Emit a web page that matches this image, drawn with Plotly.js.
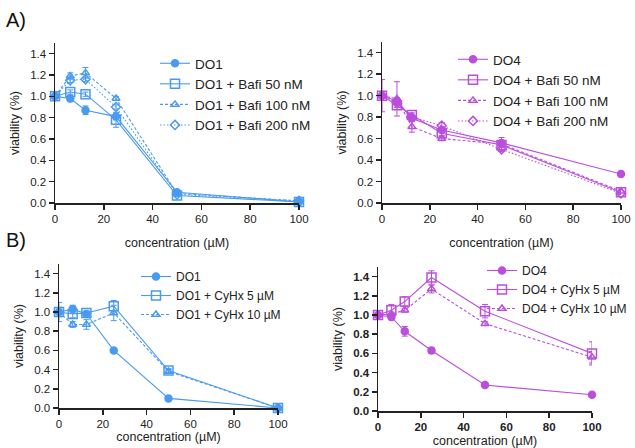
<!DOCTYPE html>
<html><head><meta charset="utf-8">
<script src="https://cdn.plot.ly/plotly-3.0.1.min.js"></script>
<style>html,body{margin:0;padding:0;background:#fff}#c{width:635px;height:448px}</style>
</head><body><div id="c"></div>
<script>
const conc = [0, 6.25, 12.5, 25, 50, 100];

// Panel A left (DO1 + Bafilomycin)
const a1Names = ["DO1", "DO1 + Bafi 50 nM", "DO1 + Bafi 100 nM", "DO1 + Bafi 200 nM"];
const a1_DO1 = [1.0, 0.98, 0.87, 0.81, 0.10, 0.01];
const a1_DO1_err = [0.02, 0.03, 0.04, 0.03, 0.01, 0.01];
const a1_B50 = [1.0, 1.04, 1.02, 0.78, 0.07, 0.01];
const a1_B50_err = [0.02, 0.02, 0.02, 0.07, 0.01, 0.01];
const a1_B100 = [1.0, 1.19, 1.22, 0.98, 0.09, 0.02];
const a1_B100_err = [0.02, 0.03, 0.05, 0.02, 0.01, 0.01];
const a1_B200 = [1.0, 1.15, 1.16, 0.90, 0.08, 0.02];
const a1_B200_err = [0.02, 0.02, 0.02, 0.02, 0.01, 0.01];

// Panel A right (DO4 + Bafilomycin)
const a2Names = ["DO4", "DO4 + Bafi 50 nM", "DO4 + Bafi 100 nM", "DO4 + Bafi 200 nM"];
const a2_DO4 = [1.0, 0.95, 0.79, 0.68, 0.56, 0.27];
const a2_DO4_err = [0.15, 0.03, 0.02, 0.02, 0.02, 0.01];
const a2_B50 = [1.0, 0.91, 0.82, 0.65, 0.54, 0.10];
const a2_B50_err = [0.02, 0.02, 0.02, 0.02, 0.02, 0.02];
const a2_B100 = [1.0, 0.97, 0.71, 0.60, 0.55, 0.11];
const a2_B100_err = [0.02, 0.16, 0.05, 0.02, 0.06, 0.02];
const a2_B200 = [1.0, 0.93, 0.80, 0.72, 0.50, 0.09];
const a2_B200_err = [0.02, 0.02, 0.02, 0.03, 0.02, 0.01];

// Panel B left (DO1 + Cycloheximide)
const b1Names = ["DO1", "DO1 + CyHx 5 µM", "DO1 + CyHx 10 µM"];
const b1_DO1 = [1.0, 1.03, 0.98, 0.60, 0.10, 0.0];
const b1_DO1_err = [0.03, 0.04, 0.02, 0.01, 0.01, 0.0];
const b1_C5 = [1.0, 0.98, 0.99, 1.06, 0.39, 0.0];
const b1_C5_err = [0.10, 0.04, 0.02, 0.06, 0.02, 0.0];
const b1_C10 = [1.0, 0.87, 0.87, 0.99, 0.38, 0.0];
const b1_C10_err = [0.05, 0.03, 0.05, 0.08, 0.02, 0.0];

// Panel B right (DO4 + Cycloheximide)
const b2Names = ["DO4", "DO4 + CyHx 5 µM", "DO4 + CyHx 10 µM"];
const b2_DO4 = [1.0, 0.98, 0.83, 0.63, 0.27, 0.17];
const b2_DO4_err = [0.02, 0.03, 0.05, 0.03, 0.01, 0.01];
const b2_C5 = [1.0, 1.05, 1.14, 1.39, 1.04, 0.60];
const b2_C5_err = [0.02, 0.06, 0.05, 0.07, 0.07, 0.12];
const b2_C10 = [1.0, 1.01, 1.05, 1.27, 0.91, 0.56];
const b2_C10_err = [0.02, 0.02, 0.02, 0.04, 0.02, 0.06];

const BLUE = "#4a9af0", PURPLE = "#b94fdc";
const symbols = ["circle", "square-open", "triangle-up-open", "diamond-open"];
const dashes = ["solid", "solid", "3px,2px", "1.5px,2px"];
const symbolsC = ["circle", "square-open", "triangle-up-open"];
const dashesC = ["solid", "solid", "3px,2px"];

let gid = 0;
function tr(y, err, name, color, sym, dash, xa, ya, leg, size) {
  gid += 1;
  return {
    x: conc, y: y, name: name, type: "scatter", mode: "lines+markers",
    xaxis: xa, yaxis: ya, legend: leg, legendgroup: "g" + gid, cliponaxis: false,
    line: {color: color, width: 1.1, dash: dash},
    marker: {symbol: sym, color: color, size: size, line: {color: color, width: 1.5}},
    error_y: {type: "data", array: err, visible: true, color: color, thickness: 1, width: 3}
  };
}

const data = [];
const a1 = [[a1_DO1, a1_DO1_err], [a1_B50, a1_B50_err], [a1_B100, a1_B100_err], [a1_B200, a1_B200_err]];
a1.forEach((s, i) => data.push(tr(s[0], s[1], a1Names[i], BLUE, symbols[i], dashes[i], "x", "y", "legend", i === 1 ? 9 : 7)));
const a2 = [[a2_DO4, a2_DO4_err], [a2_B50, a2_B50_err], [a2_B100, a2_B100_err], [a2_B200, a2_B200_err]];
a2.forEach((s, i) => data.push(tr(s[0], s[1], a2Names[i], PURPLE, symbols[i], dashes[i], "x2", "y2", "legend2", i === 1 ? 9 : 7)));
const b1 = [[b1_DO1, b1_DO1_err], [b1_C5, b1_C5_err], [b1_C10, b1_C10_err]];
b1.forEach((s, i) => data.push(tr(s[0], s[1], b1Names[i], BLUE, symbolsC[i], dashesC[i], "x3", "y3", "legend3", i === 1 ? 9 : 7)));
const b2 = [[b2_DO4, b2_DO4_err], [b2_C5, b2_C5_err], [b2_C10, b2_C10_err]];
b2.forEach((s, i) => data.push(tr(s[0], s[1], b2Names[i], PURPLE, symbolsC[i], dashesC[i], "x4", "y4", "legend4", i === 1 ? 9 : 7)));

const W = 635, H = 448;
const px = v => v / W, py = v => 1 - v / H;
const FONT = "Liberation Sans, Arial, sans-serif";

function xax(x0, x1, anchor, standoff, bold) {
  return {
    domain: [px(x0), px(x1)], anchor: anchor, range: [0, 100], tickvals: [0, 20, 40, 60, 80, 100],
    showgrid: false, zeroline: false, showline: true, linecolor: "#222", linewidth: 1.5,
    ticks: "outside", ticklen: 5, tickcolor: "#222", tickwidth: 1.5, ticklabeloverflow: "allow",
    tickfont: {size: 11.5, color: "#222", family: FONT, weight: bold ? "bold" : "normal"},
    title: {text: "concentration (µM)", font: {size: 12.5, color: "#222", family: FONT}, standoff: standoff}
  };
}
function yax(y0, y15, anchor, bold) {
  return {
    domain: [py(y0), py(y15)], anchor: anchor, range: [0, 1.5], tickvals: [0, 0.2, 0.4, 0.6, 0.8, 1.0, 1.2, 1.4],
    tickformat: ".1f", showgrid: false, zeroline: false, showline: true, linecolor: "#222", linewidth: 1.5,
    ticks: "outside", ticklen: 5, tickcolor: "#222", tickwidth: 1.5,
    tickfont: {size: 11.5, color: "#222", family: FONT, weight: bold ? "bold" : "normal"},
    title: {text: "viability (%)", font: {size: 12.5, color: "#222", family: FONT}, standoff: 8}
  };
}
function leg(x, y, fs, gap) {
  return {x: px(x), y: py(y), xanchor: "left", yanchor: "top", bgcolor: "rgba(0,0,0,0)",
    font: {size: fs, color: "#222", family: FONT}, itemwidth: 30, traceorder: "grouped", tracegroupgap: gap};
}

const layout = {
  width: W, height: H, margin: {l: 0, r: 0, t: 0, b: 0},
  paper_bgcolor: "#fff", plot_bgcolor: "#fff", showlegend: true,
  font: {family: FONT, color: "#222"},
  xaxis: xax(55, 299, "y", 14, false),
  yaxis: yax(203, 43, "x", false),
  xaxis2: xax(382, 621, "y2", 14, false),
  yaxis2: yax(203, 42, "x2", false),
  xaxis3: xax(59, 278, "y3", 1, false),
  yaxis3: yax(408, 264, "x3", false),
  xaxis4: xax(378, 592, "y4", 7, true),
  yaxis4: yax(411, 267, "x4", true),
  legend: leg(155, 48, 13.5, 0),
  legend2: leg(453, 44, 13.5, 0),
  legend3: leg(136, 262, 12, 0),
  legend4: leg(482, 256, 12, 0),
  annotations: [
    {text: "A)", x: px(4), y: py(20), xref: "paper", yref: "paper", xanchor: "left", yanchor: "middle", showarrow: false, font: {size: 20, color: "#111", family: FONT}},
    {text: "B)", x: px(4), y: py(240), xref: "paper", yref: "paper", xanchor: "left", yanchor: "middle", showarrow: false, font: {size: 20, color: "#111", family: FONT}}
  ]
};

Plotly.newPlot("c", data, layout, {staticPlot: true, displayModeBar: false});
</script></body></html>
